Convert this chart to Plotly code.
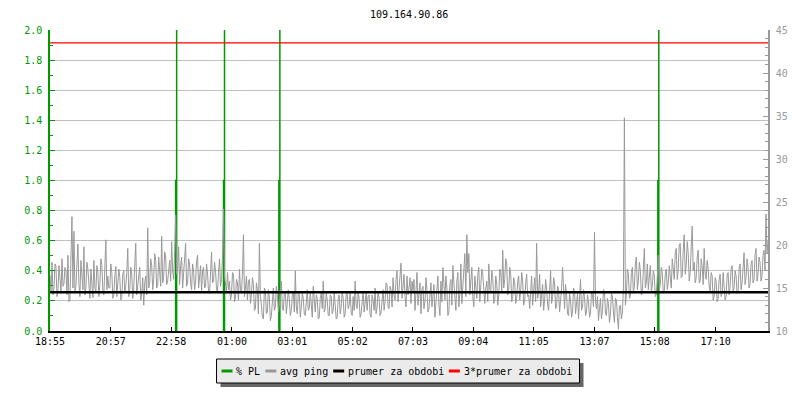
import plotly.graph_objects as go

TITLE = "109.164.90.86"

# x axis tick labels (clock time, start of window is 18:55)
tick_labels = ["18:55", "20:57", "22:58", "01:00", "03:01", "05:02",
               "07:03", "09:04", "11:05", "13:07", "15:08", "17:10"]
START_MIN = 18 * 60 + 55
SPAN_MIN = 1440
SAMPLE_STEP = 2  # minutes between ping samples

# avg ping [ms], one value every 2 minutes
ping_ms = [
    # 18:55 - 20:55
    16.5, 14.6, 18.0, 14.2, 15.0, 17.8, 17.5, 14.0, 14.8, 17.6, 16.2, 14.4, 18.4, 15.2, 15.5,
    17.4, 17.0, 14.2, 18.8, 13.4, 13.6, 18.0, 23.3, 15.0, 21.6, 14.6, 15.2, 17.8, 20.1, 15.4,
    14.0, 18.2, 16.5, 14.8, 19.8, 14.2, 15.0, 18.0, 17.2, 14.6, 13.8, 17.2, 16.0, 13.9, 18.2,
    15.0, 14.6, 17.6, 16.8, 14.0, 15.4, 18.4, 17.6, 14.6, 14.2, 17.4, 20.6, 14.8, 16.4, 15.0,
    # 20:55 - 22:55
    15.0, 17.8, 16.8, 13.8, 14.2, 16.4, 17.5, 14.0, 15.4, 17.2, 16.2, 13.6, 13.9, 16.6, 17.0,
    14.4, 15.2, 16.8, 19.6, 14.0, 14.8, 17.4, 16.6, 13.8, 15.0, 17.0, 20.2, 14.2, 15.6, 16.8,
    17.4, 13.6, 14.4, 16.2, 13.0, 15.6, 16.4, 14.2, 22.0, 15.0, 15.6, 18.4, 17.6, 14.8, 16.0,
    19.0, 18.2, 15.0, 15.4, 18.6, 17.0, 15.2, 21.0, 15.6, 16.2, 19.2, 18.6, 15.4, 15.8, 17.6,
    # 22:55 - 00:55
    18.2, 15.8, 20.4, 17.0, 16.0, 19.4, 23.5, 16.6, 17.2, 19.8, 15.4, 17.6, 18.6, 15.0, 16.4,
    18.8, 20.2, 15.2, 15.6, 18.4, 17.8, 15.6, 14.8, 17.8, 17.0, 14.8, 15.8, 18.2, 18.8, 15.0,
    16.2, 17.6, 14.6, 17.0, 17.4, 15.0, 15.2, 17.8, 16.6, 14.6, 14.4, 17.2, 19.2, 15.6, 15.8,
    18.0, 17.0, 14.8, 14.6, 16.8, 18.4, 15.2, 16.0, 18.6, 24.2, 16.4, 15.4, 14.6, 16.8, 14.8,
    # 00:55 - 02:55
    15.8, 13.6, 14.2, 16.8, 16.6, 13.4, 13.8, 16.0, 15.6, 13.6, 17.2, 14.8, 14.4, 16.6, 21.2,
    14.0, 15.0, 16.4, 13.6, 15.8, 16.0, 13.2, 14.2, 16.2, 15.4, 12.4, 12.6, 15.6, 14.8, 12.0,
    20.2, 14.0, 13.0, 11.6, 11.4, 15.0, 14.6, 12.0, 12.2, 14.8, 13.8, 11.2, 11.8, 14.2, 15.0,
    12.4, 12.8, 15.2, 14.2, 12.2, 13.0, 14.8, 15.8, 12.6, 12.4, 14.6, 14.4, 12.0, 13.2, 14.8,
    # 02:55 - 04:55
    13.6, 11.8, 12.4, 14.2, 14.6, 12.2, 17.0, 12.8, 12.0, 14.6, 14.2, 11.6, 12.8, 14.4, 13.8,
    12.0, 11.8, 13.6, 14.8, 12.4, 12.6, 14.6, 13.4, 11.6, 15.2, 13.0, 12.2, 14.2, 13.8, 11.4,
    11.6, 13.8, 14.4, 12.6, 15.8, 12.2, 12.6, 14.4, 13.6, 11.8, 11.8, 14.2, 14.0, 12.0, 12.4,
    14.6, 13.2, 11.4, 11.6, 13.8, 14.2, 12.0, 12.8, 14.6, 13.8, 11.6, 12.0, 14.2, 14.4, 12.6,
    # 04:55 - 06:55
    13.0, 14.6, 12.2, 11.8, 14.0, 12.4, 15.8, 13.0, 12.6, 14.4, 13.8, 11.6, 12.0, 13.8, 14.6,
    12.2, 13.0, 14.4, 12.4, 14.0, 14.2, 12.0, 11.6, 14.2, 13.6, 12.4, 15.0, 12.0, 12.8, 14.6,
    13.8, 11.8, 12.2, 14.2, 14.8, 12.4, 13.4, 15.6, 15.4, 12.8, 12.6, 15.2, 14.8, 12.8, 16.2,
    14.2, 13.6, 16.0, 17.0, 13.4, 14.8, 15.6, 17.9, 13.8, 15.2, 16.6, 14.0, 12.8, 16.4, 14.2,
    # 06:55 - 08:55
    15.0, 16.2, 13.2, 15.8, 14.6, 16.0, 12.4, 14.4, 16.8, 13.0, 14.0, 15.6, 12.0, 14.8, 15.2,
    12.6, 13.4, 16.2, 14.8, 12.2, 12.6, 14.4, 15.6, 12.8, 13.8, 15.4, 11.6, 13.2, 14.6, 16.4,
    13.0, 11.8, 15.8, 13.4, 17.4, 14.6, 13.6, 16.4, 15.0, 11.8, 12.2, 15.4, 16.0, 13.0, 17.6,
    15.6, 14.2, 12.4, 15.8, 16.8, 12.8, 14.4, 17.8, 13.2, 15.2, 16.6, 19.0, 14.0, 21.2, 16.8,
    # 08:55 - 10:55
    19.0, 14.2, 15.6, 17.4, 14.0, 12.8, 16.4, 14.6, 13.8, 16.6, 17.4, 13.4, 15.0, 17.2, 16.6,
    14.0, 13.2, 15.0, 15.8, 13.4, 17.8, 14.8, 14.6, 17.0, 16.2, 13.2, 13.6, 16.4, 15.4, 13.0,
    14.2, 17.2, 16.8, 14.6, 19.4, 15.0, 16.0, 18.4, 17.8, 14.2, 14.8, 17.4, 16.6, 13.4, 14.0,
    16.2, 15.6, 13.2, 13.8, 15.8, 16.4, 13.6, 14.6, 16.8, 15.8, 13.0, 13.6, 15.6, 16.6, 14.0,
    # 10:55 - 12:55
    14.2, 12.6, 15.6, 16.4, 13.0, 14.8, 16.2, 13.4, 20.2, 13.8, 14.6, 16.6, 12.8, 14.2, 15.4,
    12.4, 13.6, 16.0, 15.0, 13.0, 12.4, 14.8, 17.0, 13.2, 14.0, 16.2, 15.6, 12.6, 12.8, 15.2,
    14.8, 12.2, 13.4, 15.0, 17.4, 13.8, 12.6, 15.4, 14.2, 12.0, 11.8, 14.4, 13.6, 11.6, 12.2,
    15.0, 14.6, 12.0, 13.0, 14.4, 11.4, 13.2, 16.0, 12.4, 12.8, 14.8, 14.0, 11.8, 12.2, 14.2,
    # 12:55 - 14:55
    13.4, 11.6, 12.0, 14.6, 14.2, 12.8, 21.5, 13.6, 12.6, 14.0, 11.2, 12.6, 13.8, 11.4, 12.4,
    14.8, 14.6, 12.0, 11.8, 13.8, 13.2, 11.0, 12.0, 14.4, 14.0, 12.2, 11.0, 13.8, 13.6, 11.6,
    10.2, 12.8, 13.0, 11.4, 12.2, 15.0, 34.8, 13.0, 14.4, 17.2, 16.6, 13.8, 14.0, 16.8, 17.4,
    14.4, 15.2, 17.8, 18.6, 14.8, 15.8, 18.0, 17.0, 14.2, 14.6, 17.2, 19.6, 15.0, 15.6, 17.8,
    # 14:55 - 16:55
    14.8, 16.4, 17.6, 14.6, 15.2, 17.0, 16.4, 14.0, 14.2, 16.2, 18.8, 14.8, 15.4, 17.4, 16.8,
    14.4, 14.6, 16.6, 17.2, 14.8, 15.6, 17.6, 16.2, 15.0, 18.4, 16.8, 16.0, 19.2, 19.6, 16.0,
    17.2, 20.0, 20.2, 16.2, 16.4, 19.4, 21.2, 16.6, 17.6, 20.4, 19.0, 15.8, 16.8, 19.8, 22.2,
    17.0, 18.0, 15.6, 16.2, 18.6, 19.4, 15.6, 15.8, 18.4, 17.6, 15.4, 19.6, 16.6, 16.0, 18.2,
    # 16:55 - 18:55
    17.2, 15.2, 14.6, 16.8, 16.4, 13.6, 14.0, 16.2, 15.8, 13.4, 13.8, 16.0, 16.6, 14.0, 14.4,
    16.8, 15.6, 13.6, 14.0, 16.4, 16.8, 14.2, 15.2, 17.2, 17.6, 14.6, 15.0, 17.0, 16.4, 14.4,
    14.6, 17.2, 17.8, 14.8, 15.6, 18.0, 19.1, 15.4, 16.2, 18.4, 17.4, 15.0, 15.4, 17.8, 18.2,
    15.6, 16.0, 18.8, 19.6, 15.8, 16.6, 18.6, 18.0, 15.8, 16.4, 18.8, 19.4, 17.0, 23.6, 19.0,
    20.5,
]

# packet loss [%] spikes, minutes from window start (None = gap between spikes)
pl_minutes = [252, 252, 254, 254, 254, None,
              348, 348, 350, 350, 350, None,
              459, 459, 461, 461, 461, None,
              1219, 1219, 1221, 1221, 1221]
pl_percent = [0, 1.0, 1.0, 3.0, 0, None,
              0, 1.0, 1.0, 3.0, 0, None,
              0, 1.0, 1.0, 3.0, 0, None,
              0, 1.0, 1.0, 3.0, 0]

mean_ping = 14.5  # "prumer za obdobi"

GREEN = "#009900"
GRAY = "#999999"
FONT = "DejaVu Sans Mono"


def tick_pos(label):
    h, m = label.split(":")
    return (int(h) * 60 + int(m) - START_MIN) % 1440


ping_minutes = [i * SAMPLE_STEP for i in range(len(ping_ms))]

fig = go.Figure()
fig.add_trace(go.Scatter(x=pl_minutes, y=pl_percent, mode="lines", name="% PL",
                         line=dict(color=GREEN, width=1.5), yaxis="y",
                         connectgaps=False))
fig.add_trace(go.Scatter(x=ping_minutes, y=ping_ms, mode="lines", name="avg ping",
                         line=dict(color=GRAY, width=1), yaxis="y2"))
fig.add_trace(go.Scatter(x=[0, SPAN_MIN], y=[mean_ping, mean_ping], mode="lines",
                         name="prumer za obdobi", line=dict(color="black", width=2.5),
                         yaxis="y2"))
fig.add_trace(go.Scatter(x=[0, SPAN_MIN], y=[3 * mean_ping, 3 * mean_ping], mode="lines",
                         name="3*prumer za obdobi", line=dict(color="red", width=1.2),
                         yaxis="y2"))

# the page body has an 8px margin; figure is shrunk so the window shows 800x400
PAGE_OFF = 8
W, H = 800 - PAGE_OFF, 400 - PAGE_OFF
# plot area in window pixels: x 50..770, y 30..331
L, R, T, B = 50, 770, 30, 331


def px(x):
    return (x - L) / (R - L)


def py(y):
    return (B - y) / (B - T)


shapes = [
    dict(type="rect", xref="paper", yref="paper", x0=px(221), x1=px(585),
         y0=py(363), y1=py(387), fillcolor="#666666", line=dict(width=0), layer="above"),
    dict(type="rect", xref="paper", yref="paper", x0=px(217), x1=px(581),
         y0=py(359), y1=py(383), fillcolor="#ebebeb", line=dict(color="black", width=1),
         layer="above"),
]
annotations = [dict(text=TITLE, xref="paper", yref="paper", x=0.5, y=py(14),
                    yanchor="middle", showarrow=False,
                    font=dict(family=FONT, size=10, color="black"))]

legend_items = [("% PL", GREEN, 222, 235),
                ("avg ping", GRAY, 266, 279),
                ("prumer za obdobi", "black", 334, 347),
                ("3*prumer za obdobi", "red", 450, 463)]
for text, color, sx, tx in legend_items:
    shapes.append(dict(type="line", xref="paper", yref="paper", x0=px(sx), x1=px(sx + 11),
                       y0=py(371), y1=py(371), line=dict(color=color, width=3), layer="above"))
    annotations.append(dict(text=text, xref="paper", yref="paper", x=px(tx), y=py(371),
                            xanchor="left", yanchor="middle", showarrow=False,
                            font=dict(family=FONT, size=10, color="black")))

fig.update_layout(
    width=W, height=H,
    margin=dict(l=L - PAGE_OFF, r=W - (R - PAGE_OFF), t=T - PAGE_OFF, b=H - (B - PAGE_OFF),
                pad=0),
    paper_bgcolor="white", plot_bgcolor="white",
    showlegend=False,
    font=dict(family=FONT, size=10, color="black"),
    xaxis=dict(range=[0, SPAN_MIN], tickvals=[tick_pos(t) for t in tick_labels],
               ticktext=tick_labels, ticks="inside", ticklen=4, tickcolor="black",
               showline=True, linecolor="black", linewidth=1.5, showgrid=False,
               zeroline=False, ticklabelstandoff=0),
    yaxis=dict(range=[0, 2], dtick=0.2, tickformat=".1f", ticks="inside", ticklen=5,
               tickcolor=GREEN, tickfont=dict(color=GREEN), showline=True,
               linecolor=GREEN, linewidth=1.5, gridcolor="#c0c0c0", zeroline=False,
               minor=dict(dtick=0.1, ticks="inside", ticklen=3, tickcolor=GREEN,
                          showgrid=False),
               ticklabelstandoff=4),
    yaxis2=dict(range=[10, 45], dtick=5, overlaying="y", side="right", ticks="inside",
                ticklen=5, tickcolor=GRAY, tickfont=dict(color=GRAY), showline=True,
                linecolor=GRAY, linewidth=1.5, showgrid=False, zeroline=False,
                minor=dict(dtick=1, ticks="inside", ticklen=3, tickcolor=GRAY),
                ticklabelstandoff=4),
    shapes=shapes,
    annotations=annotations,
)

fig.write_html("out.html")
